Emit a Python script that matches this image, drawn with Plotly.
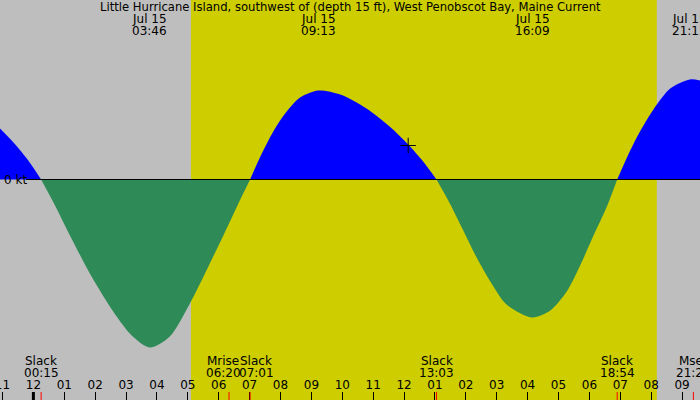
import plotly.graph_objects as go

# ---------------- data ----------------
DAY = "2025-07-15"
PREV = "2025-07-14"

title = "Little Hurricane Island, southwest of (depth 15 ft), West Penobscot Bay, Maine Current"

# tidal current curve: times and speed (kt, + flood, - ebb)
curve_times = [
    PREV + " 22:55", PREV + " 23:23", PREV + " 23:50",
    DAY + " 00:15", DAY + " 00:42", DAY + " 01:14", DAY + " 01:53", DAY + " 02:35", DAY + " 03:11",
    DAY + " 03:46", DAY + " 04:25", DAY + " 05:04", DAY + " 05:37", DAY + " 06:09", DAY + " 06:40",
    DAY + " 07:01", DAY + " 07:20", DAY + " 07:46", DAY + " 08:12", DAY + " 08:38", DAY + " 09:13",
    DAY + " 09:56", DAY + " 10:47", DAY + " 11:32", DAY + " 12:08", DAY + " 12:37",
    DAY + " 13:03", DAY + " 13:29", DAY + " 13:55", DAY + " 14:21", DAY + " 14:50", DAY + " 15:19",
    DAY + " 16:09", DAY + " 16:44", DAY + " 17:16", DAY + " 17:42", DAY + " 18:08", DAY + " 18:34",
    DAY + " 18:54", DAY + " 19:13", DAY + " 19:32", DAY + " 19:52", DAY + " 20:11", DAY + " 20:37",
    DAY + " 21:15", DAY + " 21:35",
]
curve_speeds = [
    0.51, 0.36, 0.19,
    0.0, -0.26, -0.59, -0.97, -1.32, -1.56,
    -1.68, -1.57, -1.24, -0.90, -0.56, -0.22,
    0.0, 0.22, 0.48, 0.68, 0.82, 0.89,
    0.85, 0.71, 0.53, 0.35, 0.18,
    0.0, -0.24, -0.51, -0.78, -1.04, -1.25,
    -1.38, -1.31, -1.12, -0.86, -0.56, -0.27,
    0.0, 0.22, 0.42, 0.60, 0.75, 0.91,
    1.00, 0.99,
]

# extremes (top labels)
max_times = ["03:46", "09:13", "16:09", "21:15"]
max_date_label = "Jul 15"

# bottom events
event_names = ["Slack", "Mrise", "Slack", "Slack", "Slack", "Mset"]
event_times = ["00:15", "06:20", "07:01", "13:03", "18:54", "21:22"]
event_label_shift = [0, -6, 6, 0, 0, 0]

# daylight
sunrise = "05:06"
sunset = "20:11"

# current-time marker
now_time = "12:08"
now_speed = 0.34

# view window
x_start = PREV + " 22:55:08"
x_end = DAY + " 21:34:50"
y_range = [-2.205, 1.795]

# ---------------- styling ----------------
GRAY = "rgb(190,190,190)"
YELLOW = "rgb(205,205,0)"
BLUE = "rgb(0,0,255)"
GREEN = "rgb(46,139,87)"
FONT = "DejaVu Sans"
W, H = 700, 400


def py(px):
    return 1 - px / H


fig = go.Figure()

# split curve into segments between slacks (zero values)
segments = []
cur_t, cur_v = [], []
for t, v in zip(curve_times, curve_speeds):
    cur_t.append(t)
    cur_v.append(v)
    if v == 0 and len(cur_t) > 1:
        segments.append((cur_t, cur_v))
        cur_t, cur_v = [t], [v]
if len(cur_t) > 1:
    segments.append((cur_t, cur_v))

for ts, vs in segments:
    positive = sum(vs) > 0
    fig.add_trace(go.Scatter(
        x=ts, y=vs, mode="lines", line=dict(width=0, shape="spline", smoothing=0.8),
        fill="tozeroy", fillcolor=BLUE if positive else GREEN,
        hoverinfo="skip", showlegend=False,
    ))

# current-time marker
fig.add_trace(go.Scatter(
    x=[DAY + " " + now_time], y=[now_speed], mode="markers",
    marker=dict(symbol="cross-thin", size=11, line=dict(width=1, color="black")),
    hoverinfo="skip", showlegend=False,
))

shapes = []
# daylight
shapes.append(dict(type="rect", xref="x", yref="paper", x0=DAY + " " + sunrise, x1=DAY + " " + sunset,
                   y0=0, y1=1, fillcolor=YELLOW, line=dict(width=0), layer="below"))
# zero line
shapes.append(dict(type="line", xref="paper", yref="y", x0=26 / W, x1=1, y0=0, y1=0,
                   line=dict(color="black", width=1), layer="above"))
# midnight marker
shapes.append(dict(type="line", xref="x", yref="paper", x0=DAY + " 00:00", x1=DAY + " 00:00",
                   y0=0, y1=8 / H, line=dict(color="black", width=3), layer="above"))
# red event ticks
for et in event_times:
    shapes.append(dict(type="line", xref="x", yref="paper", x0=DAY + " " + et, x1=DAY + " " + et,
                       y0=0, y1=8 / H, line=dict(color="red", width=1), layer="above"))

annotations = []
fnt = dict(family=FONT, size=12, color="black")
annotations.append(dict(text=title, xref="paper", yref="paper", x=0.5, y=py(7),
                        showarrow=False, font=dict(family=FONT, size=11.6, color="black"),
                        xanchor="center", yanchor="middle"))
for mt in max_times:
    annotations.append(dict(text=max_date_label, xref="x", yref="paper", x=DAY + " " + mt, y=py(19),
                            showarrow=False, font=fnt, xanchor="center", yanchor="middle"))
    annotations.append(dict(text=mt, xref="x", yref="paper", x=DAY + " " + mt, y=py(31),
                            showarrow=False, font=fnt, xanchor="center", yanchor="middle"))
for name, et, sh in zip(event_names, event_times, event_label_shift):
    annotations.append(dict(text=name, xref="x", yref="paper", x=DAY + " " + et, y=py(361), xshift=sh,
                            showarrow=False, font=fnt, xanchor="center", yanchor="middle"))
    annotations.append(dict(text=et, xref="x", yref="paper", x=DAY + " " + et, y=py(373), xshift=sh,
                            showarrow=False, font=fnt, xanchor="center", yanchor="middle"))
annotations.append(dict(text="0 kt", xref="paper", yref="y", x=2 / W, y=0, showarrow=False,
                        font=fnt, xanchor="left", yanchor="middle"))

fig.update_layout(
    width=W, height=H, margin=dict(l=0, r=0, t=0, b=0, autoexpand=False),
    paper_bgcolor=GRAY, plot_bgcolor=GRAY,
    shapes=shapes, annotations=annotations, showlegend=False,
    xaxis=dict(type="date", range=[x_start, x_end], tick0=DAY + " 00:00", dtick=3600000,
               tickformat="%I", ticks="inside", ticklen=8, tickwidth=1, tickcolor="black",
               ticklabelposition="inside", ticklabeloverflow="allow", tickfont=fnt,
               automargin=False, showgrid=False, zeroline=False, showline=False, fixedrange=True),
    yaxis=dict(range=y_range, visible=False, fixedrange=True, showgrid=False, zeroline=False,
               automargin=False),
)

fig.write_html("out.html")
